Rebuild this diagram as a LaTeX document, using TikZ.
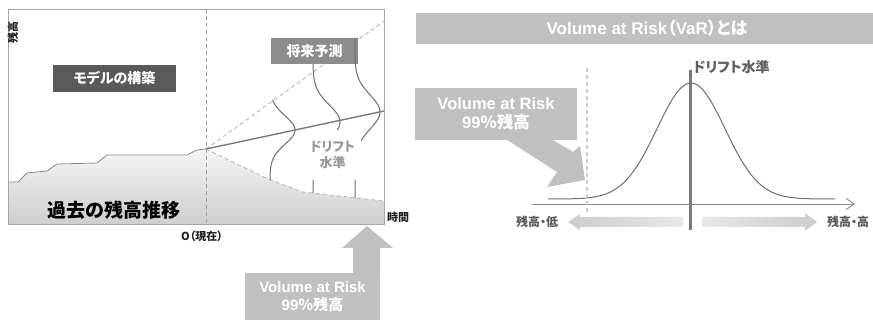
\documentclass[tikz,border=0pt]{standalone}
\usepackage{fontspec}
\setmainfont{Liberation Sans}
\newfontfamily\jp[RawFeature=+palt]{Noto Sans CJK JP}
\usetikzlibrary{arrows.meta}
\newcommand\fsz[1]{\fontsize{#1}{#1}\selectfont}
\definecolor{frameg}{HTML}{A6A6A6}
\definecolor{stepc}{HTML}{8C8C8C}
\definecolor{dashc}{HTML}{BDBDBD}
\definecolor{driftc}{HTML}{7A7A7A}
\definecolor{curvec}{HTML}{6E6E6E}
\definecolor{boxdark}{HTML}{595959}
\definecolor{boxmid}{HTML}{8C8C8C}
\definecolor{varc}{HTML}{C0C0C0}
\definecolor{titlec}{HTML}{C0C0C0}
\definecolor{labc}{HTML}{222222}
\definecolor{driftlab}{HTML}{9A9A9A}
\definecolor{axisc}{HTML}{8A8A8A}
\tikzset{
  darkbox/.style={fill=boxdark, text=white, minimum width=123, minimum height=27, font=\fsz{14}\bfseries\jp},
  midbox/.style={fill=boxmid, text=white, minimum width=87, minimum height=26, font=\fsz{14}\bfseries\jp},
  varbox/.style={fill=varc, text=white, align=center, font=\bfseries},
  axlab/.style={text=labc, font=\fsz{11}\bfseries\jp},
  curve/.style={draw=curvec, line width=1},
  dashln/.style={draw=dashc, line width=1, dash pattern=on 4pt off 3pt},
}
\begin{document}
\begin{tikzpicture}[x=1pt,y=-1pt, every node/.style={inner sep=0pt}]
\useasboundingbox[fill=white] (0,0) rectangle (873,320);
% ---------- left chart ----------
\shade[top color=gray!8, bottom color=gray!38]
  (8,182) -- (18,182) -- (27,173) -- (47,171) -- (57,164) -- (97,163) -- (107,155)
  -- (187,155) -- (197,150) -- (206,149) -- (270,180) -- (303,192) -- (384,201)
  -- (384,224) -- (8,224) -- cycle;
\draw[stepc, line width=0.8] (8,182) -- (18,182) -- (27,173) -- (47,171) -- (57,164)
  -- (97,163) -- (107,155) -- (187,155) -- (197,150) -- (206,149);
\coordinate (now) at (206,149);
\coordinate (lowend) at (384,201);
\coordinate (upend) at (384,21);
\coordinate (driftend) at (384,111);
\draw[dashln] (now) -- (270,180) -- (303,192) -- (lowend);
\draw[frameg, line width=0.8] (8,9) rectangle (384,224);
\draw[dashln] (now) -- (upend);
\draw[driftc, line width=1.4] (now) -- (driftend);
\draw[curve] plot[domain=100:180, samples=60, smooth] ({270+25*exp(-((\x-130)/20)*((\x-130)/20))}, \x);
\draw[curve] plot[domain=60:193, samples=80, smooth] ({313+27*exp(-((\x-122)/24)*((\x-122)/24))}, \x);
\node[midbox] (future) at (314.5,51) {将来予測};
\draw[curve] plot[domain=38:198, samples=80, smooth] ({355+25*exp(-((\x-112)/24)*((\x-112)/24))}, \x);
\node[fill=white, minimum width=57, minimum height=50, align=center, text=driftlab,
      font=\fsz{13}\bfseries\jp] (driftL) at (332.5,155) {ドリフト\\[3pt]水準};
\node[darkbox] (model) at (114.5,78.5) {モデルの構築};
\draw[dashln, draw=gray!75, line width=0.8] (206,9) -- (206,226);
\node[font=\fsz{19}\bfseries\jp, text=black] (past) at (114,210) {過去の残高推移};
\node[axlab, rotate=90] (yl) at (13,33) {残高};
\node[axlab] (xl) at (398,217) {時間};
\node[axlab] (t0) at (202,236) {O{\jp （現在）}};
% bottom VaR box with up arrow
\fill[varc] (367,226) -- (393,248) -- (380,248) -- (380,274) -- (353,274) -- (353,248) -- (342,248) -- cycle;
\node[varbox, minimum width=135, minimum height=47, font=\fsz{15}\bfseries] (vb1) at (312.5,296.5)
  {Volume at Risk\\[3pt]99{\jp ％残高}};
% ---------- right chart ----------
\fill[titlec] (416,13) rectangle (873,44);
\node[text=white, font=\fsz{17}\bfseries] (title) at (647,28.5) {Volume at Risk{\jp （}VaR{\jp ）とは}};
\coordinate (ax0) at (532,204);
\coordinate (ax1) at (855,204);
\draw[axisc, line width=0.9, -{Straight Barb[length=8pt,width=11pt]}] (ax0) -- (ax1);
\draw[curvec, line width=1] plot[domain=548:835, samples=120, smooth] (\x, {199-116*exp(-0.5*((\x-691)/34)*((\x-691)/34))});
\draw[draw=gray!40, line width=1.4, dash pattern=on 4pt off 3pt] (587,68) -- (587,212);
\draw[driftc, line width=3] (690,70) -- (690,230);
\node[anchor=west, text=gray!75!black, font=\fsz{14}\bfseries\jp] (driftR) at (693,67) {ドリフト水準};
\fill[varc] (501,136) -- (557,172) -- (547,187) -- (585,180) -- (580,146) -- (573,152) -- (546,136) -- cycle;
\node[varbox, minimum width=162, minimum height=52, font=\fsz{16.5}\bfseries] (vb2) at (496,114)
  {Volume at Risk\\[3pt]99{\jp ％残高}};
\shade[left color=gray!40, right color=gray!18]
  (568,222) -- (580,214) -- (580,217) -- (683,217) -- (683,227) -- (580,227) -- (580,230) -- cycle;
\shade[left color=gray!18, right color=gray!40]
  (702,217) -- (805,217) -- (805,213) -- (817,222) -- (805,231) -- (805,227) -- (702,227) -- cycle;
\node[text=gray!70!black, font=\fsz{12}\bfseries\jp] (lo) at (537,222) {残高・低};
\node[anchor=west, text=gray!70!black, font=\fsz{12}\bfseries\jp] (hi) at (827,222) {残高・高};
\end{tikzpicture}
\end{document}
